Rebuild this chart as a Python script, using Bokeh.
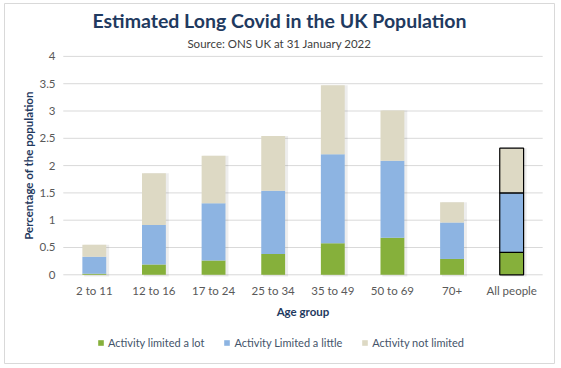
import math
from bokeh.plotting import figure
from bokeh.models import ColumnDataSource, Label, Legend, LegendItem
from bokeh.core.properties import value
from bokeh.embed import file_html
from bokeh.resources import INLINE

# ---- data ----
categories = ["2 to 11", "12 to 16", "17 to 24", "25 to 34", "35 to 49", "50 to 69", "70+", "All people"]
limited_lot = [0.02, 0.19, 0.26, 0.38, 0.58, 0.68, 0.29, 0.41]
limited_little = [0.31, 0.72, 1.05, 1.16, 1.63, 1.41, 0.67, 1.09]
not_limited = [0.22, 0.95, 0.87, 1.00, 1.26, 0.92, 0.37, 0.82]
series_names = ["Activity limited a lot", "Activity Limited a little", "Activity not limited"]
y_ticks = [0, 0.5, 1, 1.5, 2, 2.5, 3, 3.5, 4]
y_tick_labels = ["0", "0.5", "1", "1.5", "2", "2.5", "3", "3.5", "4"]
title_text = "Estimated Long Covid in the UK Population"
subtitle_text = "Source: ONS UK at 31 January 2022"
x_title = "Age group"
y_title = "Percentage of the population"

FONT = "Lato"
colors = ["#86B03B", "#8DB4E2", "#DDD9C4"]
title_color = "#1F3A60"
tick_color = "#595959"
grid_color = "#D9D9D9"

n = len(categories)
xpos = [i + 0.5 for i in range(n)]
totals = [a + b + c for a, b, c in zip(limited_lot, limited_little, not_limited)]
outline_alpha = [1.0 if c == "All people" else 0.0 for c in categories]

source = ColumnDataSource(data=dict(
    x=xpos,
    xs=[x + 0.04 for x in xpos],
    cats=categories,
    lot=limited_lot,
    little=limited_little,
    notl=not_limited,
    total=totals,
    oa=outline_alpha,
))

p = figure(x_range=(-1.006, 8.235), y_range=(-1.643, 4.969),
           width=551, height=361, output_backend="svg", toolbar_location=None,
           min_border=0)
p.styles = {"margin-left": "4px", "margin-top": "3px"}
p.title = None
p.axis.visible = False
p.grid.visible = False
p.outline_line_color = grid_color
p.border_fill_color = "white"
p.background_fill_color = "white"

# gridlines (one per y tick)
p.segment(x0=[-0.02] * len(y_ticks), x1=[n + 0.02] * len(y_ticks), y0=y_ticks, y1=y_ticks,
          line_color=grid_color, line_width=1)

# soft shadows
p.vbar(x="xs", top="total", bottom=-0.03, width=0.42, source=source,
       fill_color="#000000", fill_alpha=0.07, line_color=None)

renderers = p.vbar_stack(["lot", "little", "notl"], x="x", width=0.4, source=source,
                         color=colors, line_color="black", line_alpha="oa", line_width=1.2)

# tick labels
p.text(x=[-0.15] * len(y_ticks), y=y_ticks, text=y_tick_labels, text_align="right",
       text_baseline="middle", text_font=value(FONT), text_font_size="11.5px",
       text_color=tick_color)
p.text(x="x", y=-0.288, text="cats", source=source, text_align="center",
       text_baseline="middle", text_font=value(FONT), text_font_size="11.5px",
       text_color=tick_color)

# axis titles
p.add_layout(Label(x=n / 2, y=-0.672, text=x_title, text_font=FONT, text_font_size="11.5px",
                   text_font_style="bold", text_color=title_color, text_align="center",
                   text_baseline="middle"))
p.add_layout(Label(x=-0.604, y=2.0, text=y_title, text_font=FONT, text_font_size="11.5px",
                   text_font_style="bold", text_color=title_color, text_align="center",
                   text_baseline="middle", angle=math.pi / 2))

# title / subtitle
p.add_layout(Label(x=3.606, y=4.657, text=title_text, text_font=FONT, text_font_size="19.5px",
                   text_font_style="bold", text_color=title_color, text_align="center",
                   text_baseline="middle"))
p.add_layout(Label(x=3.606, y=4.236, text=subtitle_text, text_font=FONT, text_font_size="11.5px",
                   text_color="#404040", text_align="center", text_baseline="middle"))

legend = Legend(items=[LegendItem(label=nm, renderers=[r]) for nm, r in zip(series_names, renderers)],
                orientation="horizontal", location=(93, 15),
                glyph_width=7, glyph_height=7, label_standoff=4, spacing=19,
                padding=0, margin=0, border_line_color=None, background_fill_alpha=0,
                label_text_font=FONT, label_text_font_size="11px", label_text_color="#44546A",
                label_height=12)
p.add_layout(legend, "center")

open("out.html", "w").write(file_html(p, INLINE))
